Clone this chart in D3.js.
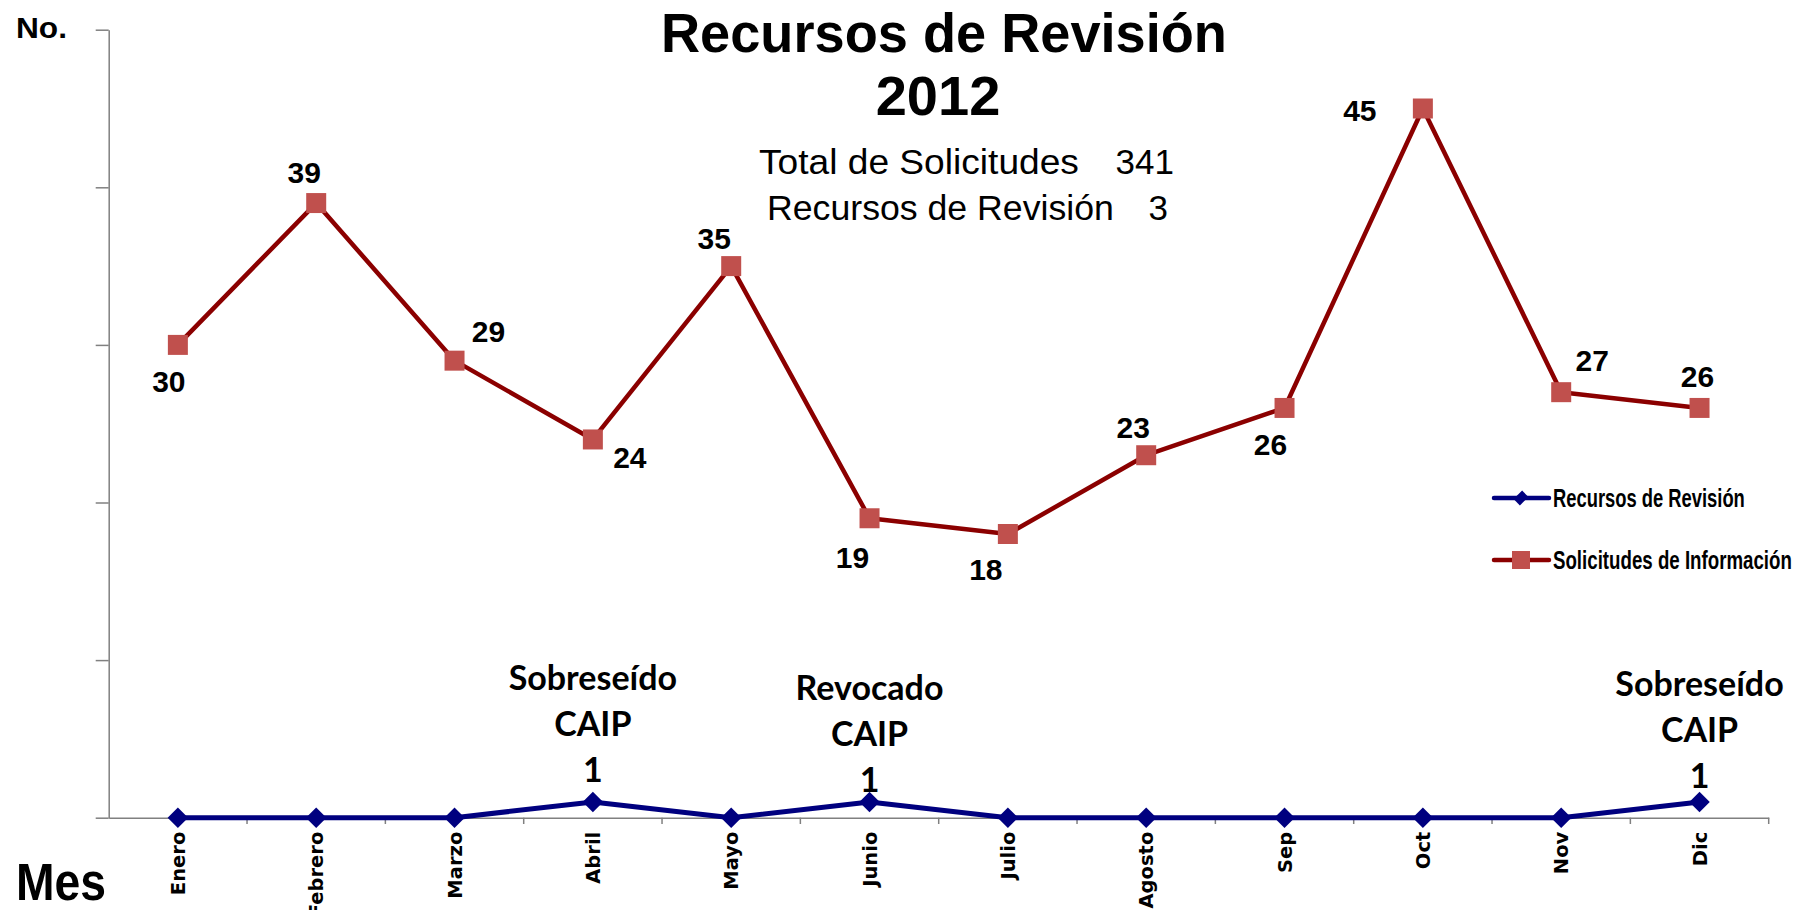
<!DOCTYPE html>
<html><head><meta charset="utf-8">
<script src="https://cdn.jsdelivr.net/npm/d3@7"></script>
<style>body{margin:0;background:#fff;overflow:hidden}</style>
</head><body><svg id="c" width="1804" height="910"></svg>
<script>
// ---- data ----
const months = ["Enero","Febrero","Marzo","Abril","Mayo","Junio","Julio","Agosto","Sep","Oct","Nov","Dic"];
const solicitudes = [30,39,29,24,35,19,18,23,26,45,27,26];
const recursos = [0,0,0,1,0,1,0,0,0,0,0,1];
const resolucion = ["","","","Sobreseído","","Revocado","","","","","","Sobreseído"];
const organo = ["","","","CAIP","","CAIP","","","","","","CAIP"];
const yTicks = [0,10,20,30,40,50];
const seriesNames = ["Recursos de Revisión","Solicitudes de Información"];
const titleLines = ["Recursos de Revisión","2012"];
const totalSolicitudes = 341, totalRecursos = 3;

// ---- layout (label placement, not data) ----
const solLabelOffsets = [[-9,36],[-12,-31],[34,-29],[37,18],[-17,-28],[-17,39],[-22,35],[-13,-28],[-14,36],[-63,2],[31,-32],[-2,-32]];
const recLabelShift = [0,0,0,-5,0,5,0,0,0,0,0,1];

const svg = d3.select("#c");
const x = d3.scaleBand().domain(months).range([108.7, 1768.7]).padding(0);
const y = d3.scaleLinear().domain([0,50]).range([817.7, 29.7]);
const cx = m => x(m) + x.bandwidth()/2;
const axisColor = "#808080";

// squeeze a text horizontally to a target width (anchor at its x)
function fitWidth(sel, w){
  const node = sel.node();
  const nat = node.getComputedTextLength();
  const x0 = +sel.attr("x"), y0 = +sel.attr("y");
  const s = w / nat;
  sel.attr("transform", `translate(${x0},${y0}) scale(${s},1) translate(${-x0},${-y0})`);
  return sel;
}

// y axis
const yAxis = svg.append("g").attr("transform","translate(108.7,0)")
  .call(d3.axisLeft(y).tickValues(yTicks).tickFormat("").tickSizeInner(13).tickSizeOuter(0));
yAxis.selectAll("path,line").attr("stroke",axisColor).attr("stroke-width",1.5);

// x axis
const xAxis = svg.append("g").attr("transform","translate(0,817.7)")
  .call(d3.axisBottom(x).tickSize(0).tickSizeOuter(0).tickPadding(0));
xAxis.select(".domain").attr("stroke",axisColor).attr("stroke-width",1.5);
xAxis.selectAll(".tick text")
  .attr("transform","rotate(-90)")
  .attr("text-anchor","end")
  .attr("x",-14).attr("y",0).attr("dy","0.36em")
  .style("font-family","'DejaVu Sans'").style("font-weight","bold").style("font-size","19.5px")
  .attr("fill","#000");
const bounds = months.map(m => x(m)).concat([x.range()[1]]).slice(1);
svg.append("g").selectAll("line").data(bounds).join("line")
  .attr("x1",d=>d).attr("x2",d=>d).attr("y1",817.7).attr("y2",824)
  .attr("stroke",axisColor).attr("stroke-width",1.5);

// lines
const lineGen = vals => d3.line().x((d,i)=>cx(months[i])).y(d=>y(d))(vals);
svg.append("path").attr("d",lineGen(solicitudes)).attr("fill","none")
  .attr("stroke","#8B0000").attr("stroke-width",4.5).attr("stroke-linejoin","round");
svg.append("path").attr("d",lineGen(recursos)).attr("fill","none")
  .attr("stroke","#00007F").attr("stroke-width",5).attr("stroke-linejoin","round");

// markers
svg.append("g").selectAll("path").data(solicitudes).join("path")
  .attr("d",d3.symbol(d3.symbolSquare,400))
  .attr("transform",(d,i)=>`translate(${cx(months[i])},${y(d)})`)
  .attr("fill","#C0504D");
svg.append("g").selectAll("path").data(recursos).join("path")
  .attr("d",d3.symbol(d3.symbolSquare,210))
  .attr("transform",(d,i)=>`translate(${cx(months[i])},${y(d)}) rotate(45)`)
  .attr("fill","#00007F");

// solicitudes labels
svg.append("g").selectAll("text").data(solicitudes).join("text")
  .attr("x",(d,i)=>cx(months[i])+solLabelOffsets[i][0])
  .attr("y",(d,i)=>y(d)+solLabelOffsets[i][1])
  .attr("dy","0.36em").attr("text-anchor","middle")
  .style("font-family","'Liberation Sans',Arial").style("font-weight","bold").style("font-size","30px")
  .text(d=>d);

// recursos annotations
const ann = svg.append("g").style("font-family","Lato").style("font-weight","bold").style("font-size","34px").attr("text-anchor","middle");
recursos.forEach((v,i)=>{
  if(!v) return;
  const px = cx(months[i]), py = y(v) + recLabelShift[i];
  ann.append("text").attr("x",px).attr("y",py-27).attr("dy","0.36em").text(v);
  ann.append("text").attr("x",px).attr("y",py-73).attr("dy","0.36em").text(organo[i]);
  ann.append("text").attr("x",px).attr("y",py-119).attr("dy","0.36em").text(resolucion[i]);
});

// title
fitWidth(svg.append("text").attr("x",661).attr("y",52)
  .style("font-family","'Liberation Sans',Arial").style("font-weight","bold").style("font-size","55px")
  .text(titleLines[0]), 566);
svg.append("text").attr("x",938).attr("y",115).attr("text-anchor","middle")
  .style("font-family","'Liberation Sans',Arial").style("font-weight","bold").style("font-size","56px")
  .text(titleLines[1]);

// subtitle totals
const sub = svg.append("g").style("font-family","'Liberation Sans',Arial").style("font-size","35px");
fitWidth(sub.append("text").attr("x",759).attr("y",174).text("Total de Solicitudes"), 320);
sub.append("text").attr("x",1174).attr("y",174).attr("text-anchor","end").text(totalSolicitudes);
fitWidth(sub.append("text").attr("x",767).attr("y",220).text("Recursos de Revisión"), 347);
sub.append("text").attr("x",1168).attr("y",220).attr("text-anchor","end").text(totalRecursos);

// axis titles
fitWidth(svg.append("text").attr("x",16).attr("y",38)
  .style("font-family","'Liberation Sans',Arial").style("font-weight","bold").style("font-size","30px")
  .text("No."), 51);
fitWidth(svg.append("text").attr("x",16).attr("y",900)
  .style("font-family","'Liberation Sans',Arial").style("font-weight","bold").style("font-size","52px")
  .text("Mes"), 90);

// legend
const leg = svg.append("g");
const legY = [498, 560];
const legColors = ["#00007F","#8B0000"];
legY.forEach((ly,k)=>{
  leg.append("line").attr("x1",1494).attr("x2",1549).attr("y1",ly).attr("y2",ly)
    .attr("stroke",legColors[k]).attr("stroke-width",4.5).attr("stroke-linecap","round");
  if(k===0){
    leg.append("path").attr("d",d3.symbol(d3.symbolSquare,110))
      .attr("transform",`translate(1521,${ly}) rotate(45) scale(0.85,1.15)`).attr("fill","#00007F");
  } else {
    leg.append("path").attr("d",d3.symbol(d3.symbolSquare,324))
      .attr("transform",`translate(1521,${ly})`).attr("fill","#C0504D");
  }
  fitWidth(leg.append("text").attr("x",1553).attr("y",ly+9)
    .style("font-family","'Liberation Sans',Arial").style("font-weight","bold").style("font-size","25px")
    .text(seriesNames[k]), k===0?192:239);
});
</script>
</body></html>
